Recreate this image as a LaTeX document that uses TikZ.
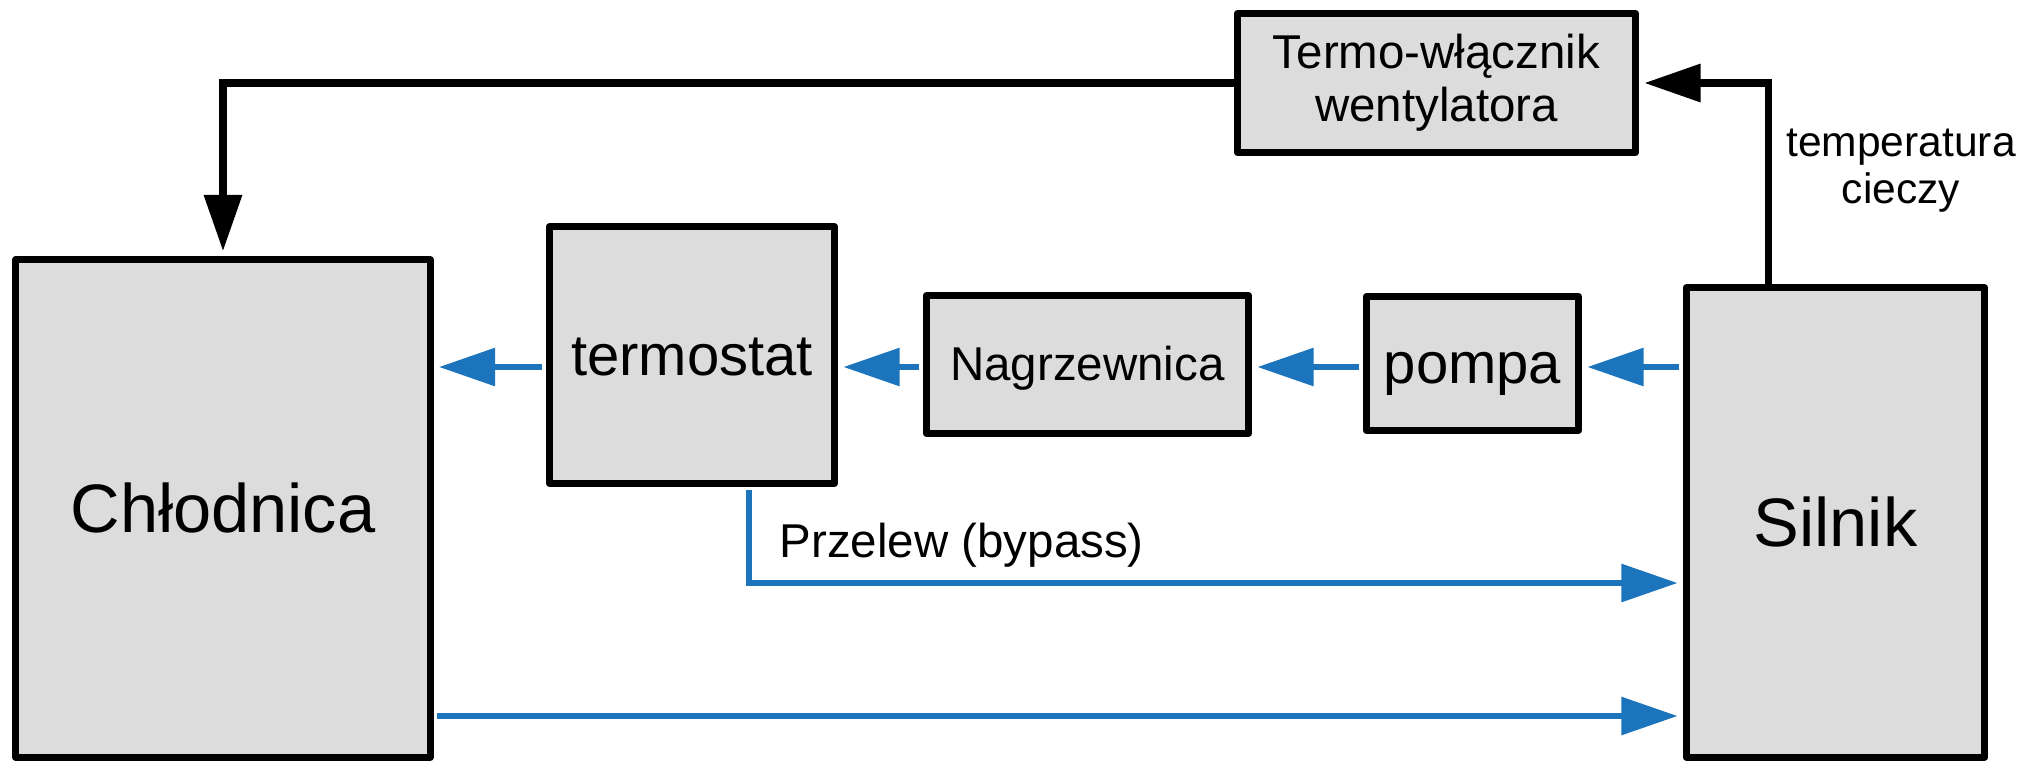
\documentclass[tikz,border=0pt]{standalone}
\usepackage{fontspec}
\setmainfont{Liberation Sans}
\usepackage{xcolor}
\usetikzlibrary{arrows.meta}

\definecolor{flowblue}{RGB}{28,117,188}
\definecolor{boxgray}{RGB}{220,220,220}

\tikzset{
  block/.style={draw=black, fill=boxgray, line width=2pt, line join=round, inner sep=0pt, align=center},
  bigtext/.style={font=\fontsize{19.5}{23}\selectfont, text height=17.6pt, text depth=4.1pt},
  midtext/.style={font=\fontsize{16.5}{20}\selectfont, text height=14.9pt, text depth=3.5pt},
  smalltext/.style={font=\fontsize{13.5}{15.1}\selectfont},
  flow/.style={draw=flowblue, line width=1.8pt, shorten <=1pt, shorten >=1.5pt,
    -{Triangle[length=16pt,width=10.5pt]}},
  ctrl/.style={draw=black, line width=2pt, shorten >=1.5pt,
    -{Triangle[length=16pt,width=10.5pt]}},
}

\begin{document}
\begin{tikzpicture}[x=0.01cm, y=-0.01cm]
\useasboundingbox (0,0) rectangle (2042,763);
% Blocks
\node[block, bigtext, minimum width=4.14cm, minimum height=4.97cm] (chlodnica) at (223,508.5) {Chłodnica};
\node[block, midtext, minimum width=2.85cm, minimum height=2.56cm] (termostat) at (692,355) {termostat};
\node[block, smalltext, text height=12.2pt, text depth=2.9pt, minimum width=3.22cm, minimum height=1.38cm] (nagrzewnica) at (1087.5,364.5) {Nagrzewnica};
\node[block, midtext, minimum width=2.12cm, minimum height=1.34cm] (pompa) at (1472.5,363.5) {pompa};
\node[block, bigtext, minimum width=2.98cm, minimum height=4.69cm] (silnik) at (1835.5,522.5) {Silnik};
\node[block, smalltext, minimum width=3.98cm, minimum height=1.39cm] (termo) at (1436.5,83) {Termo-włącznik\\wentylatora};
% Helper points
\coordinate (row) at (0,367);
\coordinate (bypass) at (749,583);
\coordinate (powrot) at (0,716);
\coordinate (czujnik) at (1768,0);
% Coolant flow
\draw[flow] (silnik.west |- row) -- (pompa.east |- row);
\draw[flow] (pompa.west |- row) -- (nagrzewnica.east |- row);
\draw[flow] (nagrzewnica.west |- row) -- (termostat.east |- row);
\draw[flow] (termostat.west |- row) -- (chlodnica.east |- row);
\draw[flow] (termostat.south -| bypass) |- (silnik.west |- bypass);
\draw[flow] (chlodnica.east |- powrot) -- (silnik.west |- powrot);
% Fan control
\draw[ctrl] (silnik.north -| czujnik) |- (termo.east);
\draw[ctrl] (termo.west) -| (chlodnica.north);
% Labels
\node[font=\fontsize{13.5}{15}\selectfont, anchor=base west, inner sep=0pt] (przelew) at (779,557) {Przelew (bypass)};
\node[font=\fontsize{12.1}{13.4}\selectfont, align=center, inner sep=0pt] (temp) at (1901,171) {temperatura\\cieczy};
\end{tikzpicture}
\end{document}
